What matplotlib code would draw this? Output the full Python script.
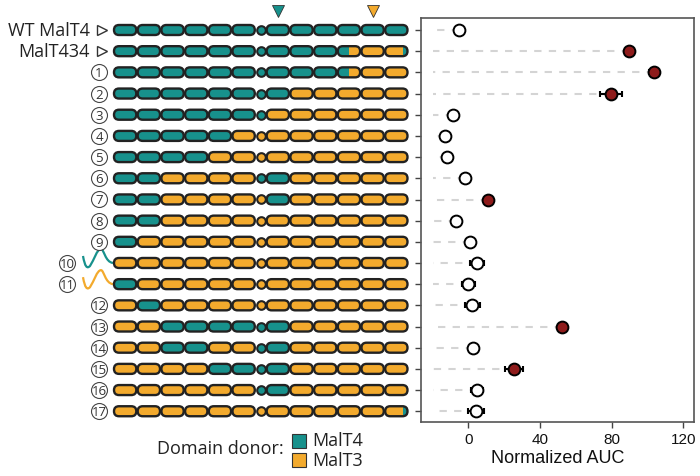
import numpy as np
import matplotlib.pyplot as plt
from matplotlib.patches import FancyBboxPatch, Rectangle, PathPatch
from matplotlib.path import Path

# constructs, top to bottom
labels = ['WT MalT4', 'MalT434'] + [str(i) for i in range(1, 18)]

# domain donor for each segment: 6 domains, linker, 6 domains
# T = MalT4, O = MalT3, S = half MalT4 / half MalT3, E = MalT3 with MalT4 tip
patterns = [
    "TTTTTTTTTTTTT",
    "TTTTTTTTTTSOE",
    "TTTTTTTTTTSOO",
    "TTTTTTTTOOOOO",
    "TTTTTTTOOOOOO",
    "TTTTTOOOOOOOO",
    "TTTTOOOOOOOOO",
    "TTOOOOTTOOOOO",
    "TTOOOOOTOOOOO",
    "TTOOOOOOOOOOO",
    "TOOOOOOOOOOOO",
    "OOOOOOOOOOOOO",
    "TOOOOOOOOOOOO",
    "OTOOOOOOOOOOO",
    "OOTTTTTTOOOOO",
    "OOTTOOTTOOOOO",
    "OOOOTTTTOOOOO",
    "OOOOOOTTOOOOO",
    "OOOOOOOOOOOOE",
]

auc = [-5.4, 89.8, 103.4, 79.6, -8.4, -13.0, -12.1, -1.7, 11.0, -6.9,
       0.6, 4.9, 0.0, 2.0, 52.2, 2.8, 25.5, 4.9, 4.2]
auc_err = [0, 0, 2.5, 6.0, 0, 0, 0, 0, 0, 0,
           0, 3.9, 3.4, 4.2, 0, 0, 5.0, 3.5, 4.4]
active = [False, True, True, True, False, False, False, False, True, False,
          False, False, False, False, True, False, True, False, False]

teal = '#17918c'
orange = '#f3aa2d'
red = '#8e1b1b'
edge = '#222222'
colors = {'T': teal, 'O': orange}

fig = plt.figure(figsize=(7, 4.77), dpi=100)

# ---- schematic (pixel coordinates) ----
sk = fig.add_axes([0, 0, 1, 1])
sk.set_xlim(0, 700)
sk.set_ylim(477, 0)
sk.axis('off')

row0, row_step = 31, 21.18
pill_w, pill_h, pitch = 22.3, 10.0, 23.7
x_first = 114.0
link_w = 10.5
lab_font = 'Open Sans'


def seg_x(k):
    if k < 6:
        return x_first + k * pitch
    if k == 6:
        return x_first + 6 * pitch + link_w / 2 - 0.6
    return x_first + 6 * pitch + link_w + (k - 7) * pitch


for i, pat in enumerate(patterns):
    yc = row0 + i * row_step
    for k, c in enumerate(pat):
        x0 = seg_x(k)
        if k == 6:
            sk.plot(x0, yc, 'o', ms=6.2, mfc=colors[c], mec=edge, mew=1.5, zorder=3)
            continue
        box = FancyBboxPatch((x0, yc - pill_h / 2), pill_w, pill_h,
                             boxstyle=f"round,pad=0,rounding_size={pill_h / 2}",
                             fc=teal if c == 'T' else orange, ec='none', zorder=2)
        sk.add_patch(box)
        if c in 'SE':
            if c == 'S':
                part = Rectangle((x0, yc - pill_h), pill_w * 0.5, 2 * pill_h, fc=teal, ec='none', zorder=2.5)
            else:
                part = Rectangle((x0 + pill_w - 5, yc - pill_h), 5, 2 * pill_h, fc=teal, ec='none', zorder=2.5)
            sk.add_patch(part)
            part.set_clip_path(box)
        sk.add_patch(FancyBboxPatch((x0, yc - pill_h / 2), pill_w, pill_h,
                                    boxstyle=f"round,pad=0,rounding_size={pill_h / 2}",
                                    fill=False, ec=edge, lw=1.7, zorder=3))

    lab = labels[i]
    if i < 2:
        sk.text(90, yc, lab, ha='right', va='center', fontsize=13,
                family=lab_font, color='#222')
        sk.plot(102, yc, '>', ms=7, mfc='white', mec='#333', mew=1.0)
    else:
        cx = 67 if lab in ('10', '11') else 99
        sk.plot(cx, yc, 'o', ms=11.5, mfc='white', mec='#444', mew=0.8)
        sk.text(cx, yc + 0.5, lab, ha='center', va='center', fontsize=9.5,
                family=lab_font, color='#333')

# signal-peptide style waves in front of constructs 10 and 11
for lab, col in (('10', teal), ('11', orange)):
    yc = row0 + labels.index(lab) * row_step
    verts = [(83, yc - 7), (85, yc + 4), (87, yc + 6), (90, yc + 3),
             (94, yc - 3), (97, yc - 14), (101, yc - 14),
             (104, yc - 14), (105, yc - 1), (113, yc)]
    codes = [Path.MOVETO] + [Path.CURVE4] * 9
    sk.add_patch(PathPatch(Path(verts, codes), fill=False, ec=col, lw=1.6, zorder=1))

# swap-site arrowheads above the WT row
sk.plot(seg_x(7) + pill_w / 2, 12, 'v', ms=9, mfc=teal, mec='#333', mew=0.6)
sk.plot(seg_x(11) + pill_w / 2, 12, 'v', ms=9, mfc=orange, mec='#333', mew=0.6)

# legend
sk.text(284, 449, 'Domain donor:', ha='right', va='center', fontsize=13,
        family=lab_font, color='#222')
for yy, col, name in ((441.5, teal, 'MalT4'), (461, orange, 'MalT3')):
    sk.add_patch(Rectangle((292, yy - 7), 14, 14, fc=col, ec='#333', lw=0.8))
    sk.text(312, yy, name, ha='left', va='center', fontsize=13,
            family=lab_font, color='#222')

# ---- dot plot ----
ax = fig.add_axes([421 / 700, 54 / 477, 273 / 700, 404 / 477])
rows = np.arange(len(labels))
for i in rows:
    ax.plot([auc[i], -20], [i, i], color='#d4d4d4', lw=1.5,
            ls=(0, (3.5, 3.5)), zorder=1)
    if auc_err[i] > 0:
        ax.errorbar(auc[i], i, xerr=auc_err[i], fmt='none', ecolor='black',
                    elinewidth=1.5, capsize=2.5, capthick=1.5, zorder=2)
    ax.plot(auc[i], i, 'o', ms=8.5, mfc=red if active[i] else 'white',
            mec='black', mew=1.4, zorder=3)

ax.set_xlim(-26.5, 126)
ax.set_ylim(18.5, -0.57)
ax.set_yticks(rows)
ax.set_yticklabels([])
ax.set_xticks([0, 40, 80, 120])
ax.tick_params(axis='both', direction='out', length=4, width=1, color='#444',
               labelsize=11, labelcolor='#111')
for lbl in ax.get_xticklabels():
    lbl.set_family('Liberation Sans')
for s in ax.spines.values():
    s.set_color('#555')
    s.set_linewidth(1.2)
ax.set_xlabel('Normalized AUC', fontsize=13, family='Liberation Sans',
              color='#111', labelpad=2)

fig.savefig('out.png', dpi=100)
